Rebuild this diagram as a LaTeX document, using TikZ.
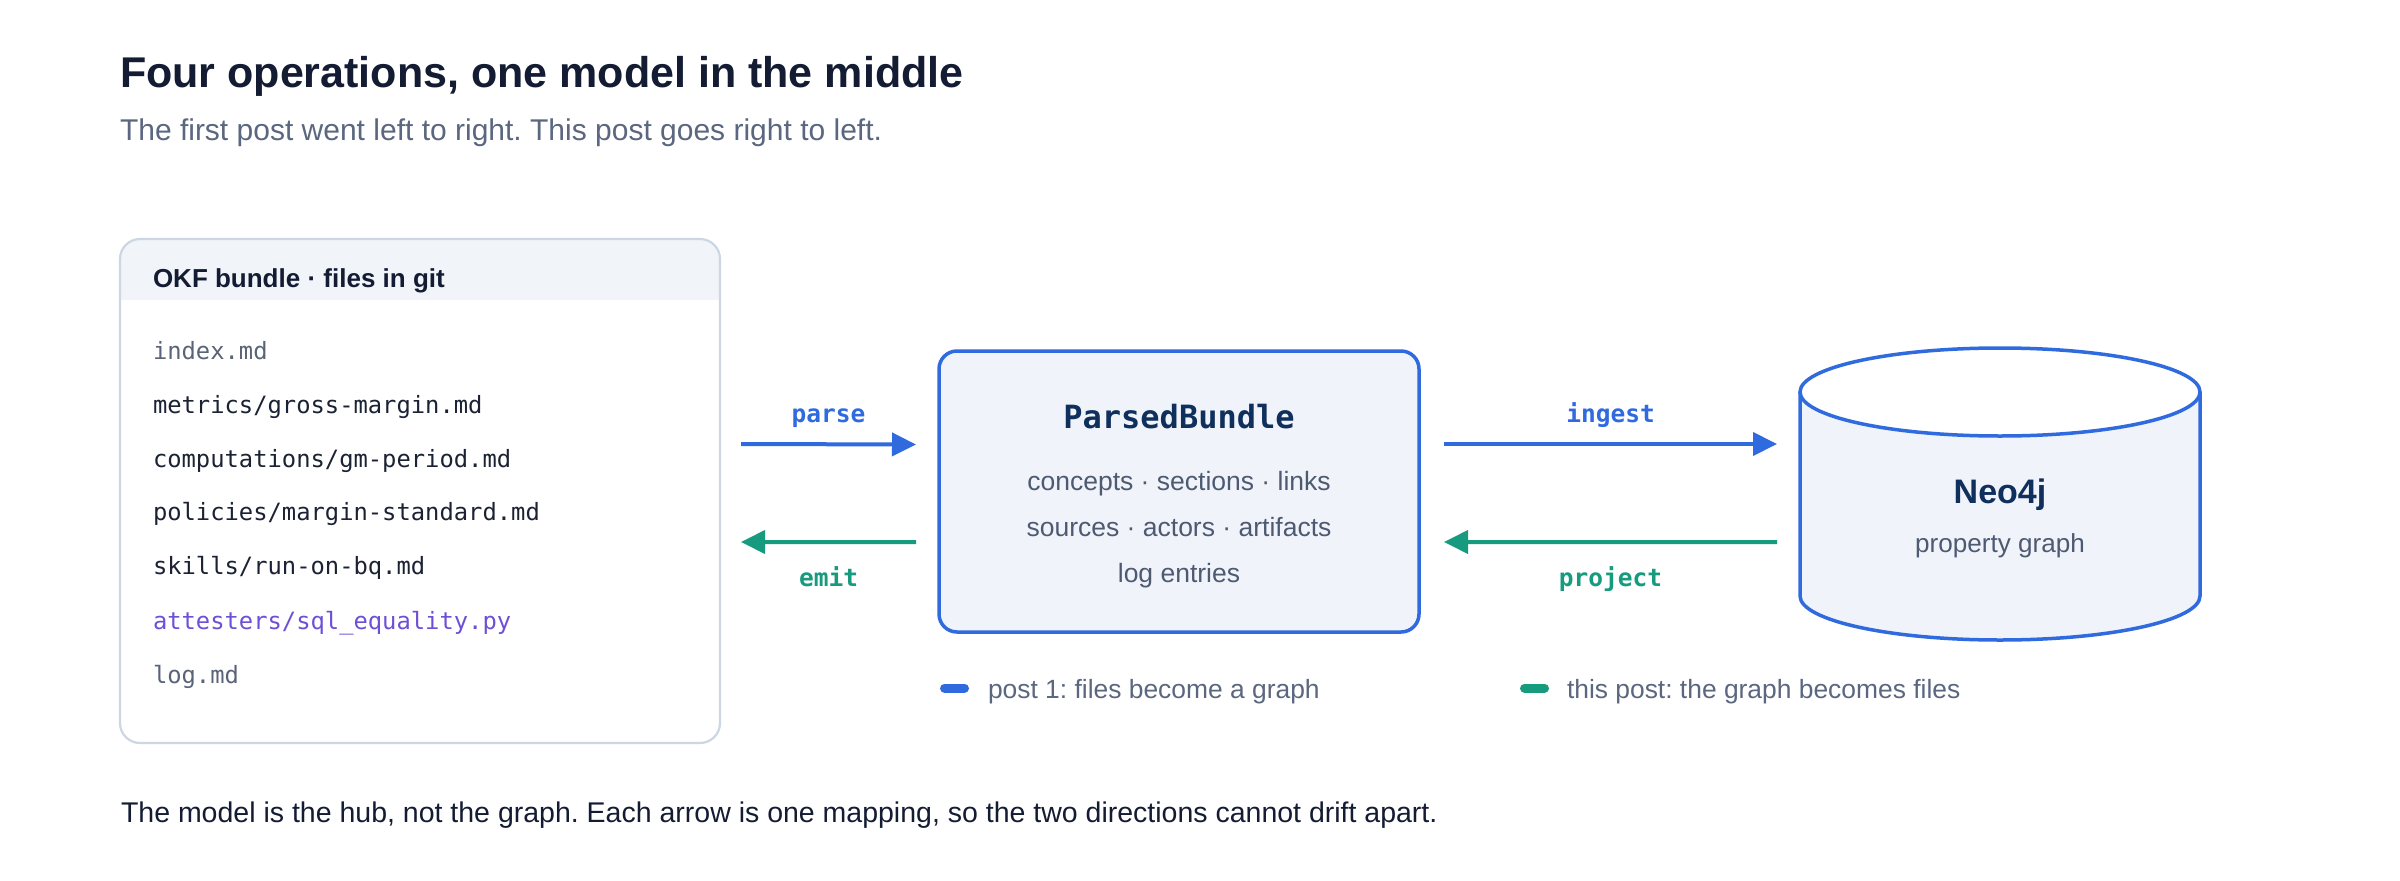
\documentclass[tikz,border=0pt]{standalone}
\usepackage{fontspec}
\setmainfont{Liberation Sans}
\setmonofont{DejaVu Sans Mono}
\usetikzlibrary{arrows.meta,calc}
\definecolor{cblue}{HTML}{2F6BDE}
\definecolor{cgreen}{HTML}{179B7F}
\definecolor{ctitle}{HTML}{131C33}
\definecolor{csub}{HTML}{5B6780}
\definecolor{cbody}{HTML}{4E5A72}
\definecolor{cnavy}{HTML}{0F2F5C}
\definecolor{cfill}{HTML}{F0F4FA}
\definecolor{chdr}{HTML}{F1F4F9}
\definecolor{cborder}{HTML}{CDD6E3}
\definecolor{cfile}{HTML}{1B2233}
\definecolor{cfilegrey}{HTML}{5A6478}
\definecolor{cpurple}{HTML}{6E50D6}
\newcommand\myfs[1]{\fontsize{#1bp}{#1bp}\selectfont}
\frenchspacing
\begin{document}
\begin{tikzpicture}[x=1bp,y=-1bp,
  every node/.style={inner sep=0pt, outer sep=0pt},
  fwd/.style={draw=cblue, line width=4bp, -{Triangle[length=24bp,width=23bp]}},
  bwd/.style={draw=cgreen, line width=4bp, -{Triangle[length=24bp,width=23bp]}},
  fwdlbl/.style={anchor=base, font=\ttfamily\bfseries\myfs{24.5}, text=cblue},
  bwdlbl/.style={anchor=base, font=\ttfamily\bfseries\myfs{24.5}, text=cgreen},
  fileline/.style={anchor=base west, font=\ttfamily\myfs{23.8}, text=cfile},
  bodytxt/.style={anchor=base, font=\myfs{26.5}, text=cbody},
  legtxt/.style={anchor=base west, font=\myfs{26.4}, text=csub},
  swatch/.style={line width=9bp, line cap=round}
]
\useasboundingbox (0,0) rectangle (2400,880);
\fill[white] (0,0) rectangle (2400,880);

% title
\node[anchor=base west, font=\bfseries\myfs{43}, text=ctitle] (title) at (120,87) {Four operations, one model in the middle};
\node[anchor=base west, font=\myfs{30}, text=csub] (subtitle) at (120,140) {The first post went left to right. This post goes right to left.};

% left box
\node[minimum width=600bp, minimum height=504bp] (okf) at (420,491) {};
\fill[white, rounded corners=20bp] (okf.north west) rectangle (okf.south east);
\begin{scope}
  \clip[rounded corners=20bp] (okf.north west) rectangle (okf.south east);
  \fill[chdr] (okf.north west) rectangle ($(okf.north east)+(0,61)$);
\end{scope}
\draw[cborder, line width=2.2bp, rounded corners=20bp] (okf.north west) rectangle (okf.south east);
\node[anchor=base west, font=\bfseries\myfs{26}, text=ctitle] (okfh) at (153,287) {OKF bundle · files in git};
\node[fileline, text=cfilegrey] (f1) at (153,359) {index.md};
\node[fileline] (f2) at (153,413) {metrics/gross-margin.md};
\node[fileline] (f3) at (153,467) {computations/gm-period.md};
\node[fileline] (f4) at (153,520) {policies/margin-standard.md};
\node[fileline] (f5) at (153,574) {skills/run-on-bq.md};
\node[fileline, text=cpurple] (f6) at (153,629) {attesters/sql\_equality.py};
\node[fileline, text=cfilegrey] (f7) at (153,683) {log.md};

% ParsedBundle
\node[draw=cblue, line width=3.5bp, rounded corners=18bp, fill=cfill, minimum width=480bp, minimum height=281bp] (pb) at (1179,491.5) {};
\node[anchor=base, font=\ttfamily\bfseries\myfs{32}, text=cnavy] (pbt) at ($(pb.center)+(0,-63.5)$) {ParsedBundle};
\node[bodytxt] (pb1) at ($(pb.center)+(0,-1.5)$) {concepts · sections · links};
\node[bodytxt] (pb2) at ($(pb.center)+(0,44.5)$) {sources · actors · artifacts};
\node[bodytxt] (pb3) at ($(pb.center)+(0,90.5)$) {log entries};

% Neo4j cylinder
\node[minimum width=400bp, minimum height=292bp] (neo) at (2000,494) {};
\filldraw[draw=cblue, fill=cfill, line width=3.5bp]
  (1800,392) -- (1800,596)
  .. controls (1800,620.3) and (1889.5,640) .. (2000,640)
  .. controls (2110.5,640) and (2200,620.3) .. (2200,596)
  -- (2200,392);
\filldraw[draw=cblue, fill=white, line width=3.5bp] (2000,392) ellipse [x radius=200, y radius=44];
\node[anchor=base, font=\bfseries\myfs{34}, text=cnavy] (neot) at (2000,503) {Neo4j};
\node[anchor=base, font=\myfs{26.1}, text=cbody] (neos) at (2000,552) {property graph};

% arrows
\draw[fwd] ($(okf.east)+(21,-47)$) -- ($(pb.west)+(-23,-47)$)
  node[fwdlbl, midway, yshift=22bp] {parse};
\draw[bwd] ($(pb.west)+(-23,50.5)$) -- ($(okf.east)+(21,51)$)
  node[bwdlbl, midway, yshift=-44bp] {emit};
\draw[fwd] ($(pb.east)+(25,-47.5)$) -- ($(neo.west)+(-23,-50)$)
  node[fwdlbl, midway, yshift=22bp] {ingest};
\draw[bwd] ($(neo.west)+(-23,48)$) -- ($(pb.east)+(25,50.5)$)
  node[bwdlbl, midway, yshift=-44bp] {project};

% legend
\draw[swatch, cblue] (944.5,688) -- (964.5,688);
\node[legtxt] (leg1) at (988,698) {post 1: files become a graph};
\draw[swatch, cgreen] (1524.5,688) -- (1544.5,688);
\node[legtxt] (leg2) at (1567,698) {this post: the graph becomes files};

% caption
\node[anchor=base west, font=\myfs{28.5}, text=ctitle] (cap) at (121,822) {The model is the hub, not the graph. Each arrow is one mapping, so the two directions cannot drift apart.};
\end{tikzpicture}
\end{document}
